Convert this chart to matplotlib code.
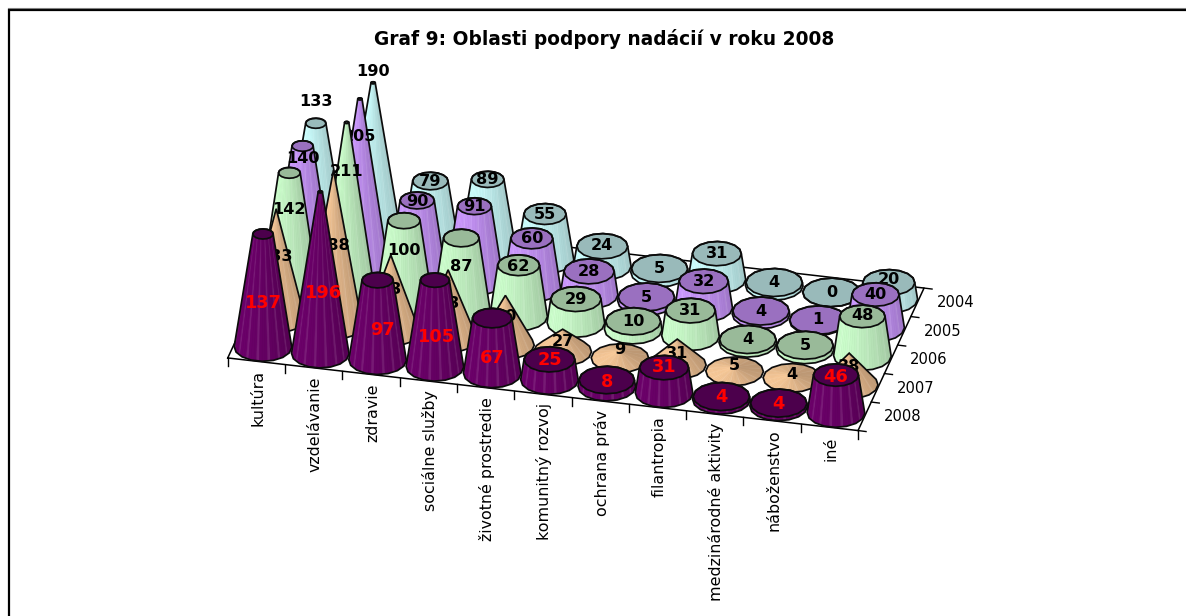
import numpy as np
import matplotlib
matplotlib.use("Agg")
import matplotlib.pyplot as plt
from matplotlib.collections import PolyCollection
from matplotlib.patches import Polygon

categories = ["kultúra", "vzdelávanie", "zdravie", "sociálne služby", "životné prostredie",
              "komunitný rozvoj", "ochrana práv", "filantropia", "medzinárodné aktivity",
              "náboženstvo", "iné"]
years = ["2008", "2007", "2006", "2005", "2004"]

v2008 = [137, 196, 97, 105, 67, 25, 8, 31, 4, 4, 46]
v2007 = [133, 188, 93, 83, 60, 27, 9, 31, 5, 4, 38]
v2006 = [142, 211, 100, 87, 62, 29, 10, 31, 4, 5, 48]
v2005 = [140, 205, 90, 91, 60, 28, 5, 32, 4, 1, 40]
v2004 = [133, 190, 79, 89, 55, 24, 5, 31, 4, 0, 20]
values = [v2008, v2007, v2006, v2005, v2004]

# how far above the floor excel put each label, in pixels
rise2008 = [44, 61, 30, 30, 15, 20, 5, 26, 3, 2, 36]
rise2007 = [62, 80, 42, 35, 28, 10, 9, 11, 6, 3, 18]
rise2006 = [80, 125, 53, 43, 50, 24, 8, 26, 3, 4, 40]
rise2005 = [103, 132, 73, 75, 49, 23, 4, 26, 3, 1, 33]
rise2004 = [131, 168, 65, 73, 45, 20, 4, 26, 3, 0, 19]
rises = [rise2008, rise2007, rise2006, rise2005, rise2004]
shift2008 = [0, 3, 5, 2, 0, 0, 0, 0, 0, 0, 0]

# light side, dark side, cap
colors = [("#6c006a", "#540052", "#4c004c"),
          ("#f8c998", "#bd9874", "#bd9874"),
          ("#ccffcc", "#9fc49f", "#99ba99"),
          ("#cc99ff", "#9c74c4", "#9a70c0"),
          ("#ccffff", "#9fc4c4", "#99baba")]
pointed = [False, True, False, False, False]

ox, oy = 263.0, 347.0
ix, iy = 57.3, 6.6
jx, jy = 13.2, -28.5
zs = 0.825
radius = 0.49


def project(i, j, v=0.0):
    return ox + ix * i + jx * j, oy + iy * i + jy * j - zs * v


def ring(i, j, v, r, t):
    x = project(i + r * np.cos(t), j + r * np.sin(t), v)
    return np.column_stack(x)


def hull(pts):
    pts = sorted(map(tuple, pts))
    def half(seq):
        out = []
        for p in seq:
            while len(out) > 1 and ((out[-1][0] - out[-2][0]) * (p[1] - out[-2][1])
                                    - (out[-1][1] - out[-2][1]) * (p[0] - out[-2][0])) <= 0:
                out.pop()
            out.append(p)
        return out[:-1]
    return np.array(half(pts) + half(pts[::-1]))


def rgb(c):
    return np.array(matplotlib.colors.to_rgb(c))


def draw_cone(ax, i, j, v, vmax, cols, is_pointed, z):
    light, dark, cap = rgb(cols[0]), rgb(cols[1]), cols[2]
    # the tallest cone of a series still keeps a tiny flat top
    top_r = 0.0 if is_pointed else radius * (1 - v / (vmax * 1.08))
    tfine = np.linspace(0, 2 * np.pi, 65)
    tcoarse = np.linspace(0, 2 * np.pi, 17)[:-1] + 0.2
    low = ring(i, j, 0, radius, tfine)
    high = ring(i, j, v, top_r, tfine)
    faces, shades = [], []
    for k in range(64):
        quad = np.array([low[k], low[k + 1], high[k + 1], high[k]])
        x, y = quad[:, 0], quad[:, 1]
        # screen y points down, keep the facets turned to us
        if np.dot(x, np.roll(y, -1)) - np.dot(y, np.roll(x, -1)) > 0 and v > 0:
            continue
        mid = (tfine[k] + tfine[k + 1]) / 2
        s = 0.5 + 0.5 * np.cos(mid - np.radians(215))
        col = dark + (light - dark) * s
        if k % 4 == 0:
            col = col + (1 - col) * 0.1
        faces.append(quad)
        shades.append(col)
    outline = hull(np.vstack([ring(i, j, 0, radius, tcoarse), ring(i, j, v, top_r, tcoarse)]))
    base = Polygon(outline, closed=True, facecolor=cols[1], edgecolor="none", zorder=z)
    ax.add_patch(base)
    if faces:
        pc = PolyCollection(faces, facecolors=shades, edgecolors=shades, linewidths=0.3, zorder=z)
        ax.add_collection(pc)
        pc.set_clip_path(base)
    if top_r > 0:
        ax.add_patch(Polygon(ring(i, j, v, top_r, tcoarse), closed=True, facecolor=cap,
                             edgecolor="#0c0c0c", linewidth=1.25, zorder=z))
    ax.add_patch(Polygon(outline, closed=True, facecolor="none", edgecolor="#0c0c0c",
                         linewidth=1.25, zorder=z))


fig = plt.figure(figsize=(11.86, 6.16), dpi=100)
ax = fig.add_axes([0, 0, 1, 1])
ax.set_xlim(0, 1186)
ax.set_ylim(616, 0)
ax.axis("off")

# chart frame, open on the right and bottom
ax.plot([8.5, 8.5, 1186], [616, 9.5, 9.5], color="black", lw=1.6, solid_joinstyle="miter")
ax.plot([8, 1186], [8.2, 8.2], color="#808080", lw=0.8)

ax.text(604, 39, "Graf 9: Oblasti podpory nadácií v roku 2008", ha="center", va="center",
        fontsize=13.4, fontweight="bold", color="black")

# floor
n_cat, n_yr = len(categories), len(years)
corners = [(-0.5, -0.5), (n_cat - 0.5, -0.5), (n_cat - 0.5, n_yr - 0.5), (-0.5, n_yr - 0.5), (-0.5, -0.5)]
fx, fy = zip(*[project(a, b) for a, b in corners])
ax.plot(fx, fy, color="black", lw=1.1, zorder=1)

for k in range(n_cat + 1):
    x, y = project(k - 0.5, -0.5)
    ax.plot([x, x], [y, y + 8], color="black", lw=1.0, zorder=1)
for k in range(n_yr + 1):
    x, y = project(n_cat - 0.5, k - 0.5)
    ax.plot([x, x + 8], [y, y + 1], color="black", lw=1.0, zorder=1)

for k, name in enumerate(categories):
    x, y = project(k, -0.5)
    ax.text(x + 1.5, y + 9, name, rotation=90, ha="center", va="top", fontsize=11.4, color="black")
for k, yr in enumerate(years):
    x, y = project(n_cat - 0.5, k)
    ax.text(x + 38, y + 0.5, yr, ha="center", va="center", fontsize=10.6, color="black")

# back row first so the front cones hide the labels behind them
for j in range(n_yr - 1, -1, -1):
    z = 10 + (n_yr - j) * 10
    vmax = max(values[j])
    for i in range(n_cat):
        draw_cone(ax, i, j, values[j][i], vmax, colors[j], pointed[j], z)
    for i in range(n_cat):
        x, y = project(i, j)
        front = j == 0
        if front:
            x += shift2008[i]
        ax.text(x, y - rises[j][i], str(values[j][i]), ha="center", va="center",
                fontsize=12.8 if front else 11.6, fontweight="bold",
                color="red" if front else "black", zorder=z + 1)

fig.savefig("out.png", dpi=100, facecolor="white")
